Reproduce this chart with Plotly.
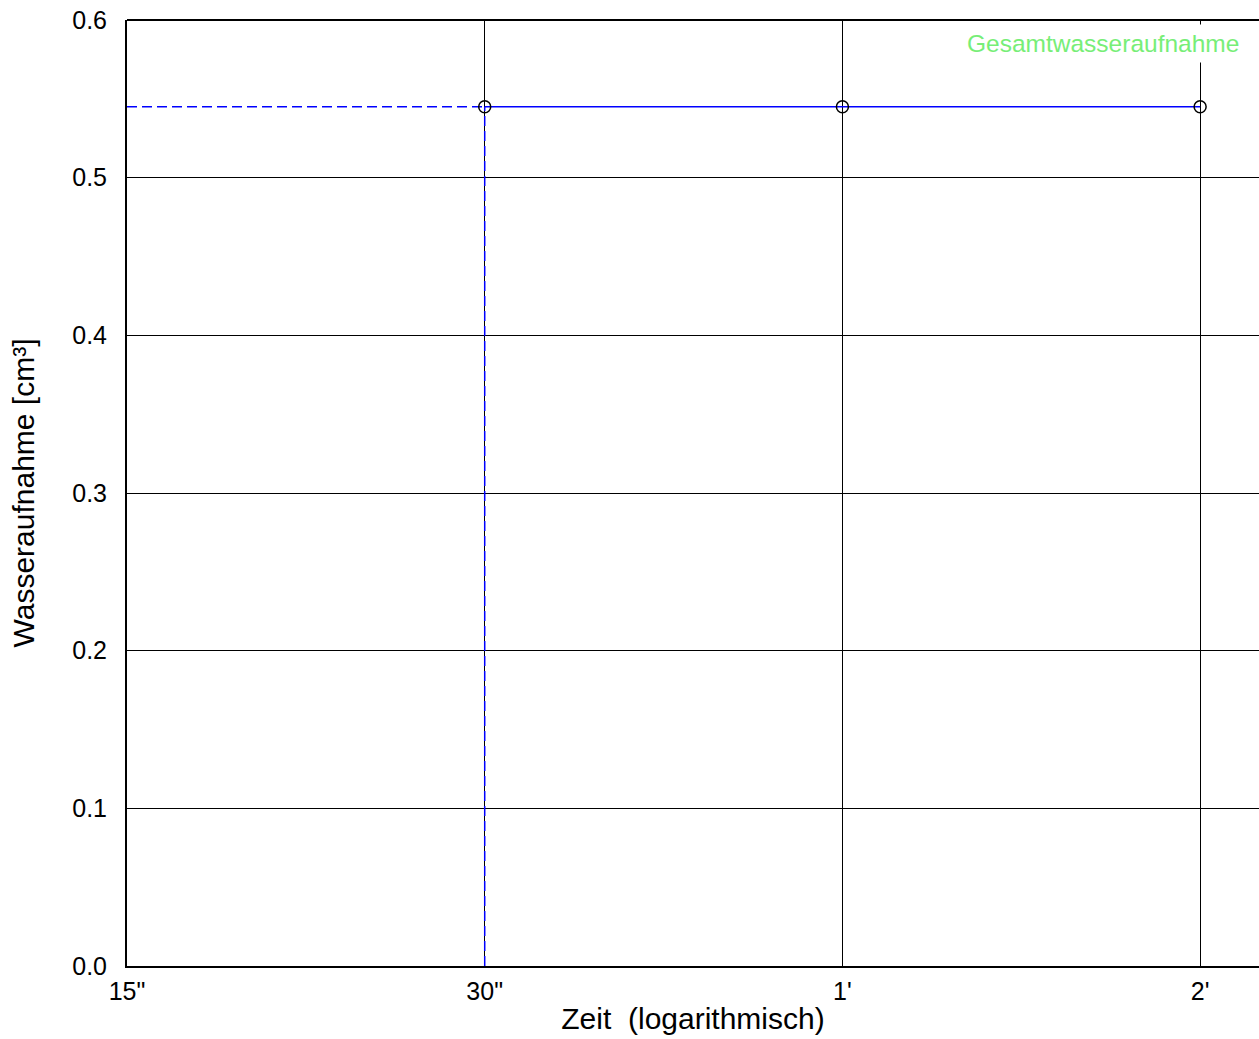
import math
import plotly.graph_objects as go

# Measurement data: elapsed time in seconds and total water uptake in cm³
zeit_s = [30, 60, 120]
wasseraufnahme = [0.545, 0.545, 0.545]

x_tick_vals = [15, 30, 60, 120]
x_tick_text = ['15"', '30"', "1'", "2'"]
y_tick_vals = [0.0, 0.1, 0.2, 0.3, 0.4, 0.5, 0.6]

x_min, x_max = 15, 134.5
y_min, y_max = 0.0, 0.6

BLUE = "#0000ff"
FONT = "Liberation Sans, Arial, sans-serif"

fig = go.Figure()

# Reference lines from the first measurement to both axes
fig.add_trace(go.Scatter(
    x=[x_min, zeit_s[0]], y=[wasseraufnahme[0], wasseraufnahme[0]],
    mode="lines", line=dict(color=BLUE, width=1.5, dash="10px,5px"),
    hoverinfo="skip", showlegend=False))
fig.add_trace(go.Scatter(
    x=[zeit_s[0], zeit_s[0]], y=[y_min, wasseraufnahme[0]],
    mode="lines", line=dict(color=BLUE, width=1.5, dash="10px,5px"),
    hoverinfo="skip", showlegend=False))

# Total water uptake curve
fig.add_trace(go.Scatter(
    x=zeit_s, y=wasseraufnahme, mode="lines",
    line=dict(color=BLUE, width=1.5), showlegend=False))
fig.add_trace(go.Scatter(
    x=zeit_s, y=wasseraufnahme, mode="markers",
    marker=dict(symbol="circle-open", size=12, color="black",
                line=dict(color="black", width=1.5)),
    showlegend=False))

fig.add_annotation(
    text="Gesamtwasseraufnahme", xref="paper", yref="paper",
    x=(1245 - 127) / 1132, y=(966 - 43) / 946,
    xanchor="right", yanchor="middle", showarrow=False,
    font=dict(family=FONT, size=24.5, color="#77ee77"),
    bgcolor="white", borderpad=5)

# Top frame line
fig.add_shape(type="line", xref="paper", yref="paper",
              x0=0, x1=1, y0=1, y1=1, line=dict(color="black", width=2))

fig.update_layout(
    width=1259, height=1039,
    margin=dict(l=127, r=0, t=20, b=73),
    plot_bgcolor="white", paper_bgcolor="white",
    font=dict(family=FONT, size=25, color="black"),
    xaxis=dict(
        type="log", range=[math.log10(x_min), math.log10(x_max)],
        tickvals=x_tick_vals, ticktext=x_tick_text,
        showgrid=True, gridcolor="black", gridwidth=1,
        showline=True, linecolor="black", linewidth=2,
        ticks="", ticklabelstandoff=2, zeroline=False,
        title=dict(text="Zeit  (logarithmisch)", standoff=4,
                   font=dict(family=FONT, size=30))),
    yaxis=dict(
        range=[y_min, y_max], tickvals=y_tick_vals, tickformat=".1f",
        showgrid=True, gridcolor="black", gridwidth=1,
        showline=True, linecolor="black", linewidth=2,
        ticks="", ticklabelstandoff=13, zeroline=False,
        title=dict(text="Wasseraufnahme [cm³]", standoff=29,
                   font=dict(family=FONT, size=30))),
)

fig.write_html("out.html")
